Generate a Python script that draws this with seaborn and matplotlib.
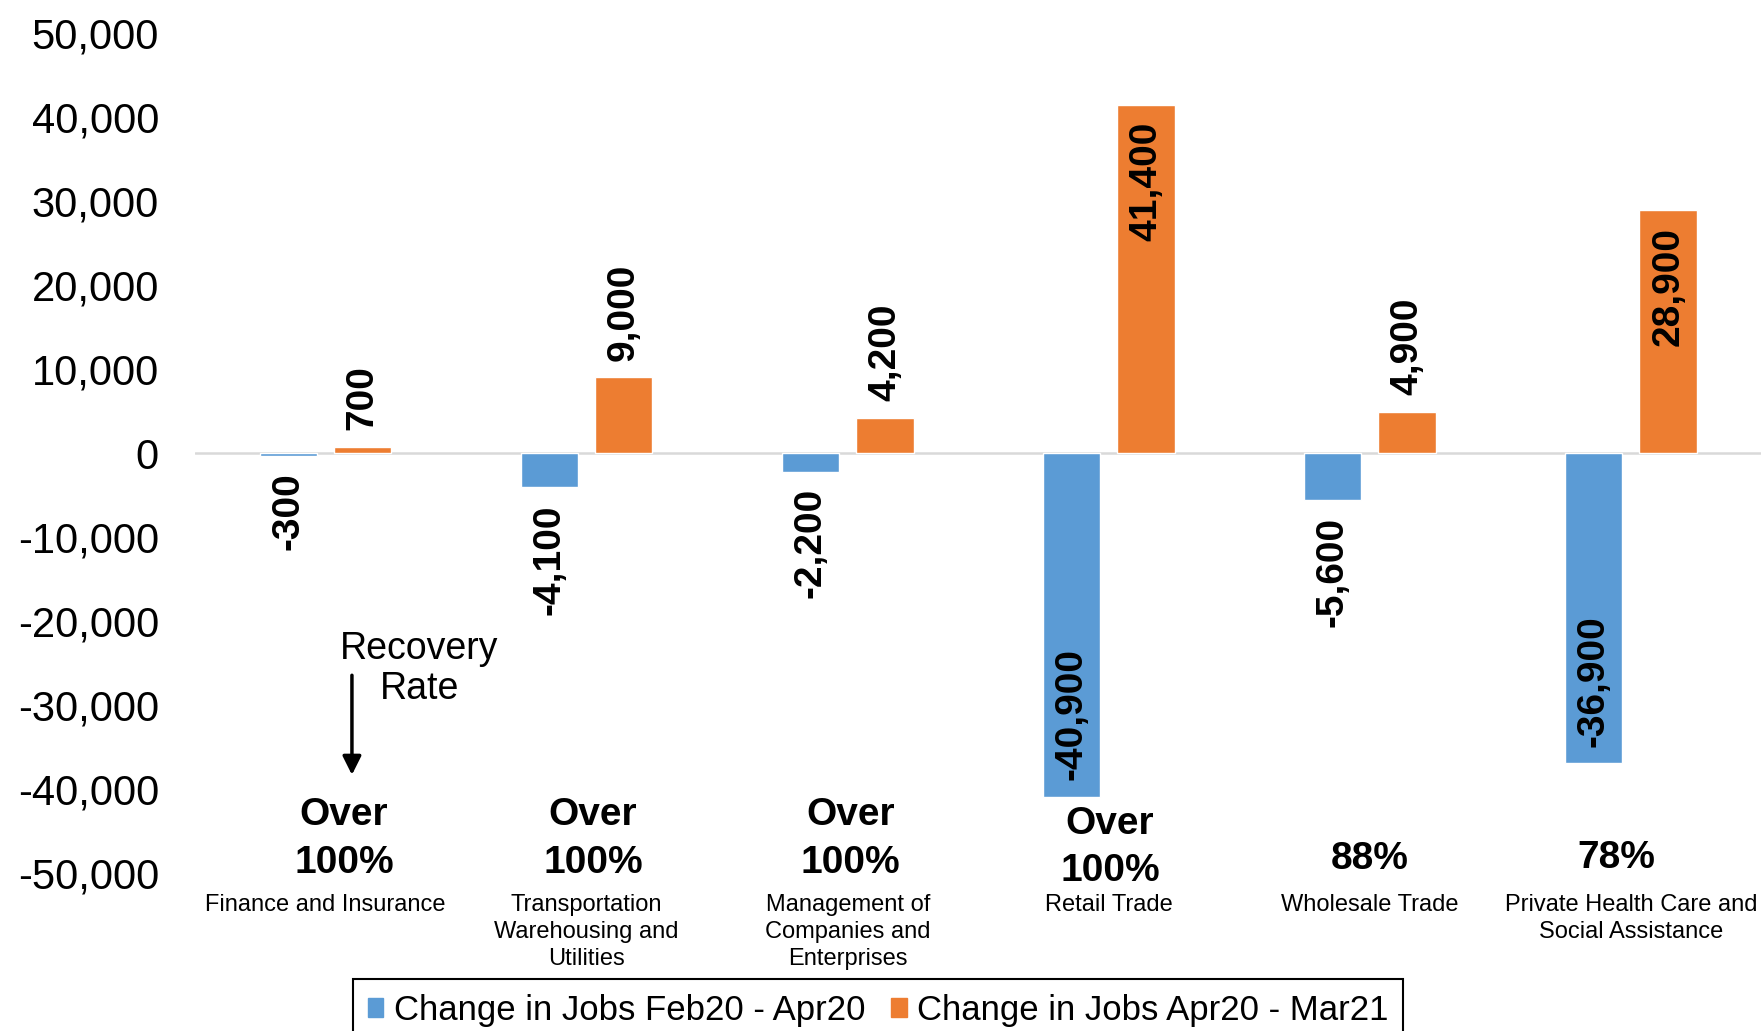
import matplotlib
matplotlib.use("Agg")
import matplotlib.pyplot as plt
import seaborn as sns
import pandas as pd

# data
industries = [
    "Finance and Insurance",
    "Transportation\nWarehousing and\nUtilities",
    "Management of\nCompanies and\nEnterprises",
    "Retail Trade",
    "Wholesale Trade",
    "Private Health Care and\nSocial Assistance",
]
change_feb_apr20 = [-300, -4100, -2200, -40900, -5600, -36900]
change_apr20_mar21 = [700, 9000, 4200, 41400, 4900, 28900]
recovery_rates = ["Over\n100%", "Over\n100%", "Over\n100%", "Over\n100%", "88%", "78%"]
series_names = ["Change in Jobs Feb20 - Apr20", "Change in Jobs Apr20 - Mar21"]
y_ticks = list(range(-50000, 50001, 10000))

# layout of the recovery rate labels (x offset from category, y in data units)
rec_dx = [0.07, 0.025, 0.01, 0.005, 0.0, -0.055]
rec_y = [-45900, -45900, -45900, -46900, -48300, -48200]

BLUE = "#5B9BD5"
ORANGE = "#ED7D31"

sns.set_style("white")
plt.rcParams["font.family"] = ["Liberation Sans", "DejaVu Sans"]
plt.rcParams["text.color"] = "black"
plt.rcParams["xtick.color"] = "black"
plt.rcParams["ytick.color"] = "black"

df = pd.DataFrame({
    "industry": industries * 2,
    "change": change_feb_apr20 + change_apr20_mar21,
    "period": [series_names[0]] * len(industries) + [series_names[1]] * len(industries),
})

fig = plt.figure(figsize=(17.65, 10.31), dpi=100)
ax = fig.add_axes([0.1105, 0.1528, 0.8875, 0.8156])

sns.barplot(data=df, x="industry", y="change", hue="period", order=industries,
            hue_order=series_names, palette=[BLUE, ORANGE], saturation=1,
            width=0.57, gap=0.23, ax=ax, legend=False)

ax.axhline(0, color="#D9D9D9", lw=1.8, zorder=0)
ax.set_xlim(-0.5, len(industries) - 0.5)
ax.set_ylim(-50000, 50000)
ax.set_yticks(y_ticks)
ax.set_yticklabels([f"{v:,}" for v in y_ticks])
ax.set_xlabel("")
ax.set_ylabel("")
sns.despine(ax=ax, left=True, bottom=True)
ax.tick_params(axis="y", length=0, pad=26, labelsize=30, labelcolor="black")
ax.tick_params(axis="x", length=0, pad=14.5, labelsize=17, labelcolor="black")
for lab in ax.get_xticklabels():
    lab.set_linespacing(1.3)

# value labels: big bars get the label inside the end, small ones outside
for container in ax.containers:
    for bar in container:
        h = bar.get_height()
        xc = bar.get_x() + bar.get_width() / 2
        inside = abs(h) > 20000
        up = (h >= 0) != inside
        ax.annotate(f"{int(round(h)):,}", (xc, h), xytext=(0, 12 if up else -12),
                    textcoords="offset points", rotation=90, ha="center",
                    va="bottom" if up else "top", fontsize=28, fontweight="bold",
                    color="black")

# recovery rates under each group
for i, txt in enumerate(recovery_rates):
    ax.text(i + rec_dx[i], rec_y[i], txt, ha="center", va="center",
            fontsize=28, fontweight="bold", linespacing=1.4, color="black")

ax.text(0.36, -25700, "Recovery\nRate", ha="center", va="center", fontsize=27,
        linespacing=1.15, color="black")
ax.annotate("", xy=(0.101, -38600), xytext=(0.101, -26100),
            arrowprops=dict(arrowstyle="-|>", color="black", lw=2.5, mutation_scale=28))

handles = [plt.Rectangle((0, 0), 1, 1, color=c) for c in (BLUE, ORANGE)]
leg = fig.legend(handles, series_names, loc="upper center", bbox_to_anchor=(0.4976, 0.0504),
                 ncol=2, fontsize=25, frameon=True, fancybox=False, edgecolor="black",
                 framealpha=1, handlelength=0.45, handleheight=0.45, handletextpad=0.3,
                 columnspacing=0.75, borderpad=0.42, borderaxespad=0)
leg.get_frame().set_linewidth(1.5)

fig.savefig("out.png", dpi=100)
